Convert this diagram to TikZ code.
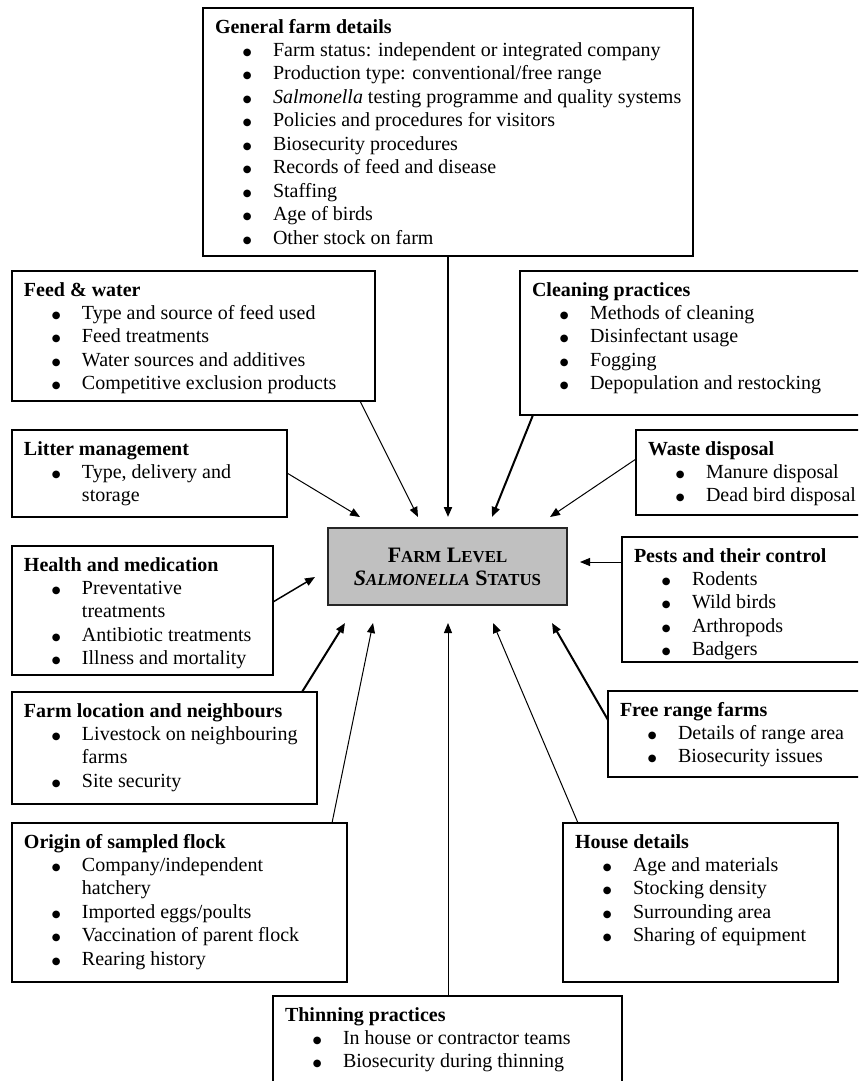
\documentclass[tikz,border=0pt]{standalone}
\usepackage{fontspec}
\setmainfont{Liberation Serif}
\newfontfamily\bulfont{DejaVu Sans}
\usetikzlibrary{arrows.meta,calc}
\newdimen\PX \PX=0.75pt
\newcommand{\boxfont}{\fontsize{15pt}{17.6pt}\selectfont\parindent=0pt\parskip=0pt}
\newcommand{\bul}{\raisebox{0.9pt}{\bulfont\fontsize{7.5pt}{7.5pt}\selectfont ●}}
\newcommand{\hd}[1]{\leftskip=0pt\noindent\hspace*{12\PX}\rule{0pt}{25\PX}\textbf{#1}\par}
\newcommand{\bi}[1]{\leftskip=70\PX\noindent\llap{\bul\hspace{21.5\PX}}#1\par}
\newcommand{\smc}[1]{{\fontsize{12.6pt}{10pt}\selectfont #1}}
\newcommand{\bx}[6]{\node[infobox, anchor=north west] (#1) at (#2,#3) {\parbox[c][#5\PX][t]{#4\PX}{\boxfont #6}};}
\tikzset{
  infobox/.style={draw=black, line width=0.9pt, inner sep=0pt, outer sep=0pt, fill=white},
  statusbox/.style={draw=black!85, line width=0.9pt, fill={rgb,255:red,192;green,192;blue,192}, inner sep=0pt, outer sep=0pt},
  thinarr/.style={line width=0.75pt, -{Triangle[length=7.5pt,width=6pt]}},
  thickarr/.style={line width=1.5pt, -{Triangle[length=7.5pt,width=6pt]}},
  medarr/.style={line width=1.1pt, -{Triangle[length=7.5pt,width=6pt]}}
}
\begin{document}
\begin{tikzpicture}[x=0.75pt,y=-0.75pt]
\useasboundingbox (0,0) rectangle (858,1081);
\clip (0,0) rectangle (858,1081);

\bx{general}{203}{8}{490}{248}{\hd{General farm details}
\bi{Farm status: independent or integrated company}
\bi{Production type: conventional/free range}
\bi{\textit{Salmonella} testing programme and quality systems}
\bi{Policies and procedures for visitors}
\bi{Biosecurity procedures}
\bi{Records of feed and disease}
\bi{Staffing}
\bi{Age of birds}
\bi{Other stock on farm}}

\bx{feed}{12}{271}{363}{130}{\hd{Feed \& water}
\bi{Type and source of feed used}
\bi{Feed treatments}
\bi{Water sources and additives}
\bi{Competitive exclusion products}}

\bx{clean}{520}{271}{350}{144}{\hd{Cleaning practices}
\bi{Methods of cleaning}
\bi{Disinfectant usage}
\bi{Fogging}
\bi{Depopulation and restocking}}

\bx{litter}{12}{430}{275}{87}{\hd{Litter management}
\bi{Type, delivery and\\storage}}

\bx{waste}{636}{430}{234}{85}{\hd{Waste disposal}
\bi{Manure disposal}
\bi{Dead bird disposal}}

\bx{health}{12}{546}{261}{129}{\hd{Health and medication}
\bi{Preventative\\treatments}
\bi{Antibiotic treatments}
\bi{Illness and mortality}}

\bx{pests}{622}{537}{248}{125}{\hd{Pests and their control}
\bi{Rodents}
\bi{Wild birds}
\bi{Arthropods}
\bi{Badgers}}

\bx{farmloc}{12}{692}{305}{112}{\hd{Farm location and neighbours}
\bi{Livestock on neighbouring\\farms}
\bi{Site security}}

\bx{free}{608}{691}{262}{86}{\hd{Free range farms}
\bi{Details of range area}
\bi{Biosecurity issues}}

\bx{origin}{12}{823}{335}{159}{\hd{Origin of sampled flock}
\bi{Company/independent\\hatchery}
\bi{Imported eggs/poults}
\bi{Vaccination of parent flock}
\bi{Rearing history}}

\bx{house}{563}{823}{275}{159}{\hd{House details}
\bi{Age and materials}
\bi{Stocking density}
\bi{Surrounding area}
\bi{Sharing of equipment}}

\bx{thin}{273}{996}{349}{100}{\hd{Thinning practices}
\bi{In house or contractor teams}
\bi{Biosecurity during thinning}}

\node[statusbox, anchor=north west] (status) at (328,528) {\parbox[c][77\PX][c]{239\PX}{\centering\fontsize{16.5pt}{17.25pt}\selectfont\bfseries
F\smc{ARM} L\smc{EVEL}\\
\textit{S\smc{ALMONELLA}} S\smc{TATUS}\par}};

% arrow tips (free ends)
\coordinate (tGen) at (448,517);
\coordinate (tFeed) at (418,517);
\coordinate (tLit) at (360,517);
\coordinate (tCln) at (492,517);
\coordinate (tWst) at (550,517);
\coordinate (tPst) at (580,562);
\coordinate (tHlt) at (315,577);
\coordinate (tLoc) at (345,623);
\coordinate (tOrg) at (373,623);
\coordinate (tThn) at (448,623);
\coordinate (tHse) at (493,623);
\coordinate (tFree) at (552,623);

\draw[thickarr] (general.south -| tGen) -- (tGen);
\draw[thinarr] ($(feed.south west)+(348,0)$) -- (tFeed);
\draw[thinarr] ($(litter.north east)+(0,43)$) -- (tLit);
\draw[thickarr] ($(clean.south west)+(13,0)$) -- (tCln);
\draw[thinarr] ($(waste.north west)+(0,29)$) -- (tWst);
\draw[thinarr] ($(pests.north west)+(0,25)$) -- (tPst);
\draw[medarr] ($(health.north east)+(0,56)$) -- (tHlt);
\draw[thickarr] ($(farmloc.north east)+(-15,0)$) -- (tLoc);
\draw[thinarr] ($(origin.north east)+(-15,0)$) -- (tOrg);
\draw[thinarr] (thin.north -| tThn) -- (tThn);
\draw[thinarr] ($(house.north west)+(15,0)$) -- (tHse);
\draw[thickarr] ($(free.north west)+(0,29)$) -- (tFree);
\end{tikzpicture}
\end{document}
